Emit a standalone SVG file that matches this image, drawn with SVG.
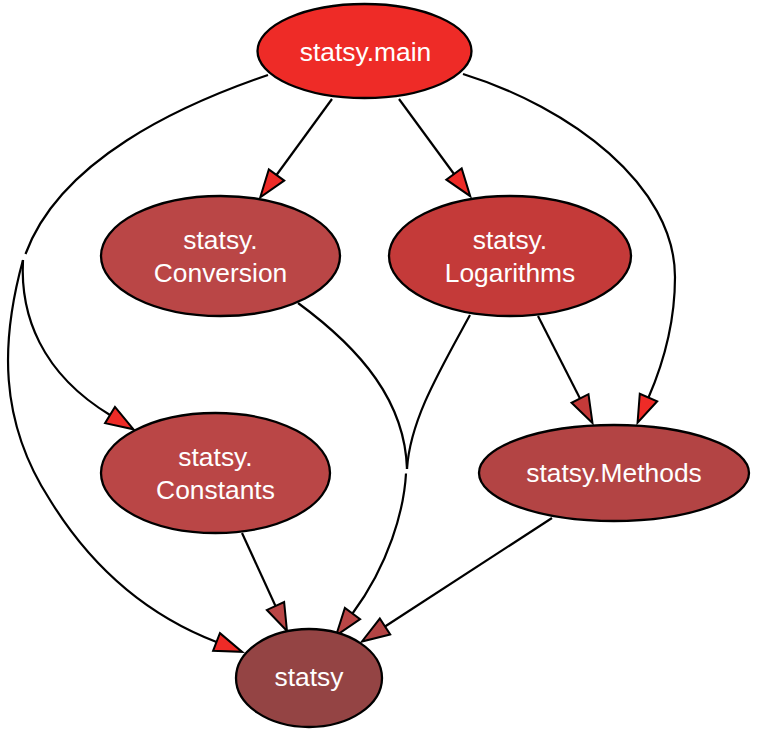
<svg xmlns="http://www.w3.org/2000/svg" width="764" height="732" viewBox="0 0 764 732">
<style>
.node ellipse{stroke:#000;stroke-width:2.3}
.node text{font-family:"Liberation Sans",Arial,sans-serif;font-size:26.4px;fill:#fff;text-anchor:middle}
.edge{fill:none;stroke:#000;stroke-width:2.2}
</style>
<defs>
<marker id="aMain" markerUnits="userSpaceOnUse" markerWidth="40" markerHeight="40" refX="0" refY="0" orient="auto" overflow="visible"><path d="M0,-9.5 L27.5,0 L0,9.5 Z" fill="#ee2b27" stroke="#000" stroke-width="2"/></marker>
<marker id="aLog" markerUnits="userSpaceOnUse" markerWidth="40" markerHeight="40" refX="0" refY="0" orient="auto" overflow="visible"><path d="M0,-9.5 L27.5,0 L0,9.5 Z" fill="#c43a39" stroke="#000" stroke-width="2"/></marker>
<marker id="aConv" markerUnits="userSpaceOnUse" markerWidth="40" markerHeight="40" refX="0" refY="0" orient="auto" overflow="visible"><path d="M0,-9.5 L27.5,0 L0,9.5 Z" fill="#ba4646" stroke="#000" stroke-width="2"/></marker>
<marker id="aMeth" markerUnits="userSpaceOnUse" markerWidth="40" markerHeight="40" refX="0" refY="0" orient="auto" overflow="visible"><path d="M0,-9.5 L27.5,0 L0,9.5 Z" fill="#b34444" stroke="#000" stroke-width="2"/></marker>
</defs>
<g id="edges">
<path class="edge" d="M332,99 L276.5,175" marker-end="url(#aMain)"/>
<path class="edge" d="M399,99 L454,174" marker-end="url(#aMain)"/>
<path class="edge" d="M463,74 C570,107 675,185 675,277 C675,320 665.75,357.75 648.5,397.5" marker-end="url(#aMain)"/>
<path class="edge" d="M268,75 C180,105 60,160 25.5,254"/>
<path class="edge" d="M23,260 C20,315 41,373 110,415" marker-end="url(#aMain)"/>
<path class="edge" d="M23,260 C1,340 -2,420 50,500 C90,565 145,614.5 216.5,642" marker-end="url(#aMain)"/>
<path class="edge" d="M298,303 C362,350 405,402 407,469"/>
<path class="edge" d="M470,315 C440,370 410,420 407,469"/>
<path class="edge" d="M406,473.5 C404,510 388.75,564.75 352.5,613.5" marker-end="url(#aConv)"/>
<path class="edge" d="M242,533 L275.5,606" marker-end="url(#aConv)"/>
<path class="edge" d="M538,316 L580,398.5" marker-end="url(#aLog)"/>
<path class="edge" d="M552,518 L385,626.5" marker-end="url(#aMeth)"/>
</g>
<g id="statsy.main" class="node"><ellipse cx="364.5" cy="51" rx="107" ry="47" fill="#ee2b27"/><text x="365.5" y="61">statsy.main</text></g>
<g id="statsy.Conversion" class="node"><ellipse cx="220.5" cy="256" rx="119.5" ry="60" fill="#ba4646"/><text x="220.5" y="249">statsy.</text><text x="220.5" y="282">Conversion</text></g>
<g id="statsy.Logarithms" class="node"><ellipse cx="510" cy="256" rx="121" ry="60" fill="#c43a39"/><text x="510" y="249">statsy.</text><text x="510" y="282">Logarithms</text></g>
<g id="statsy.Constants" class="node"><ellipse cx="215.5" cy="473" rx="114.5" ry="60" fill="#ba4646"/><text x="215.5" y="466">statsy.</text><text x="215.5" y="499">Constants</text></g>
<g id="statsy.Methods" class="node"><ellipse cx="614" cy="473" rx="135" ry="48" fill="#b34444"/><text x="614" y="482">statsy.Methods</text></g>
<g id="statsy" class="node"><ellipse cx="309" cy="678" rx="73" ry="49" fill="#944444"/><text x="309" y="686">statsy</text></g>
</svg>
